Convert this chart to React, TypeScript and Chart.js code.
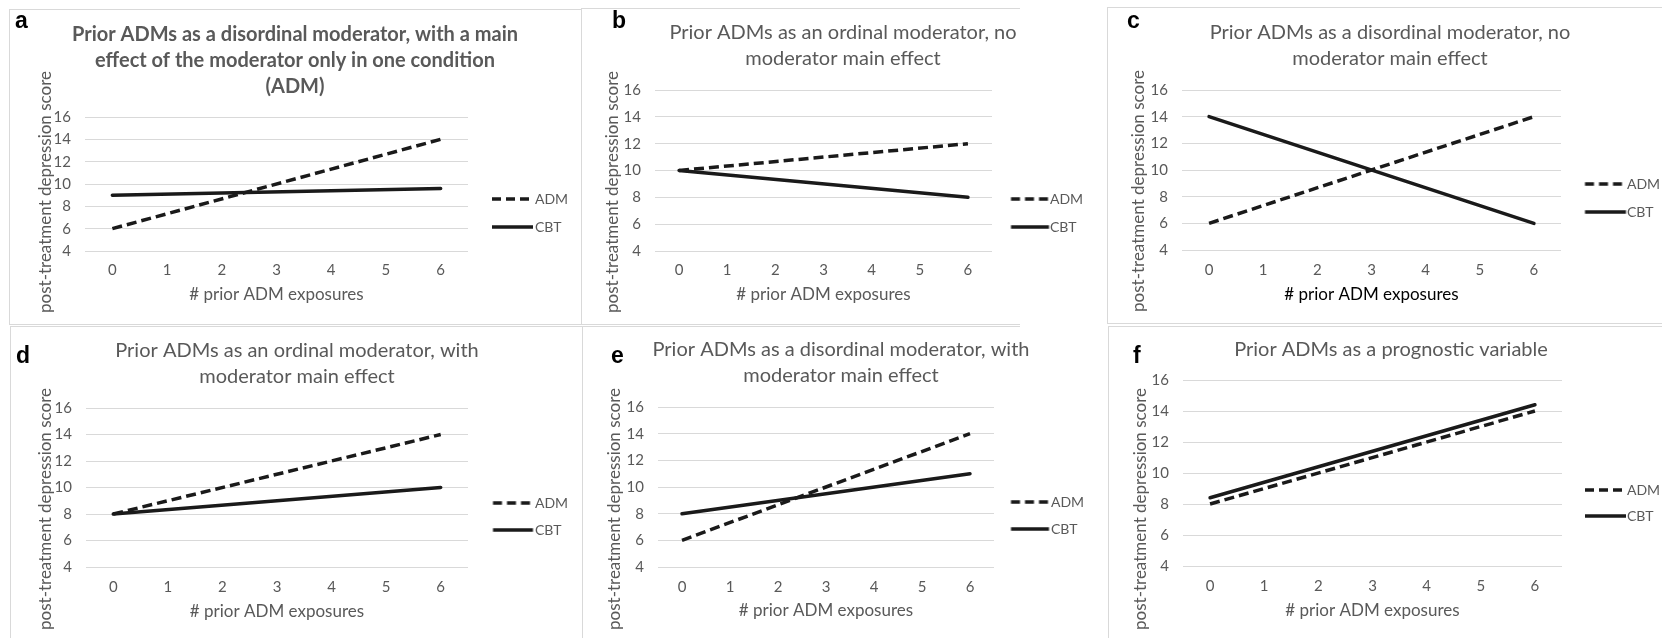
import React, { useEffect, useRef } from 'react';
import { Chart, registerables } from 'chart.js';

Chart.register(...registerables);

// ---------------- data ----------------
const EXPOSURES = ['0', '1', '2', '3', '4', '5', '6'];
const SCORE_TICKS = [4, 6, 8, 10, 12, 14, 16];
const SERIES = ['ADM', 'CBT'];
const X_TITLE = '# prior ADM exposures';
const Y_TITLE = 'post-treatment depression score';

const A_ADM = [6, null, null, null, null, null, 14];
const A_CBT = [9, null, null, null, null, null, 9.6];
const B_ADM = [10, null, null, null, null, null, 12];
const B_CBT = [10, null, null, null, null, null, 8];
const C_ADM = [6, null, null, null, null, null, 14];
const C_CBT = [14, null, null, null, null, null, 6];
const D_ADM = [8, null, null, null, null, null, 14];
const D_CBT = [8, null, null, null, null, null, 10];
const E_ADM = [6, null, null, null, null, null, 14];
const E_CBT = [8, null, null, null, null, null, 11];
const F_ADM = [8, null, null, null, null, null, 14];
const F_CBT = [8.4, null, null, null, null, null, 14.4];

const TITLE_A = [
  'Prior ADMs as a disordinal moderator, with a main',
  'effect of the moderator only in one condition',
  '(ADM)',
];
const TITLE_B = ['Prior ADMs as an ordinal moderator, no', 'moderator main effect'];
const TITLE_C = ['Prior ADMs as a disordinal moderator, no', 'moderator main effect'];
const TITLE_D = ['Prior ADMs as an ordinal moderator, with', 'moderator main effect'];
const TITLE_E = ['Prior ADMs as a disordinal moderator, with', 'moderator main effect'];
const TITLE_F = ['Prior ADMs as a prognostic variable'];

// ---------------- styles ----------------
const FONT = 'Lato, "Open Sans", sans-serif';
const GRAY = '#595959';
const LINE = '#1a1a1a';
const GRID = '#d9d9d9';
const BORDER = '#d9d9d9';
const TITLE_SIZE = 20;
const TITLE_LH = 26;
const TICK_SIZE = 15;
const TICK_LH = 18;
const AXT_SIZE = 17;
const AXT_LH = 20;
const LEG_SIZE = 14;
const LW = 3.5;
const PLOT_DASH = [10, 5];
const KEY_DASH = [9, 5];
const LEG_TEXT_ROOM = 38;

type Spec = {
  letter: string;
  letterPos: [number, number];
  title: string[];
  bold?: boolean;
  adm: (number | null)[];
  cbt: (number | null)[];
  xTitleColor?: string;
  left: number;
  top: number;
  bottom: number;
  area: [number, number, number, number];
  titleX: number;
  titleY: number;
  xTickY: number;
  xTitleY: number;
  yTitle: [number, number];
  legY: [number, number];
  key: [number, number];
  textX: number;
};

const PANELS: Spec[] = [
  {
    letter: 'a', letterPos: [15, 28], title: TITLE_A, bold: true, adm: A_ADM, cbt: A_CBT,
    left: 10, top: 10, bottom: 323, area: [85, 468, 117, 251],
    titleX: 295, titleY: 35, xTickY: 270, xTitleY: 295, yTitle: [46, 192],
    legY: [199, 227], key: [492, 533], textX: 535,
  },
  {
    letter: 'b', letterPos: [612, 28], title: TITLE_B, adm: B_ADM, cbt: B_CBT,
    left: 582, top: 10, bottom: 323, area: [655, 992, 90, 251],
    titleX: 843, titleY: 33, xTickY: 270, xTitleY: 295, yTitle: [613, 192],
    legY: [199, 227], key: [1011, 1049], textX: 1050,
  },
  {
    letter: 'c', letterPos: [1127, 28], title: TITLE_C, adm: C_ADM, cbt: C_CBT, xTitleColor: '#000000',
    left: 1108, top: 10, bottom: 322, area: [1182, 1561, 90, 250],
    titleX: 1390, titleY: 33, xTickY: 270, xTitleY: 295, yTitle: [1139, 191],
    legY: [184, 212], key: [1585, 1626], textX: 1627,
  },
  {
    letter: 'd', letterPos: [16, 363], title: TITLE_D, adm: D_ADM, cbt: D_CBT,
    left: 11, top: 327, bottom: 638, area: [86, 468, 408, 567],
    titleX: 297, titleY: 351, xTickY: 587, xTitleY: 612, yTitle: [46, 509],
    legY: [503, 530], key: [493, 533], textX: 535,
  },
  {
    letter: 'e', letterPos: [611, 363], title: TITLE_E, adm: E_ADM, cbt: E_CBT,
    left: 583, top: 327, bottom: 638, area: [658, 994, 407, 567],
    titleX: 841, titleY: 350, xTickY: 587, xTitleY: 611, yTitle: [615, 509],
    legY: [502, 529], key: [1011, 1049], textX: 1051,
  },
  {
    letter: 'f', letterPos: [1133, 363], title: TITLE_F, adm: F_ADM, cbt: F_CBT,
    left: 1109, top: 327, bottom: 638, area: [1183, 1562, 380, 566],
    titleX: 1391, titleY: 350, xTickY: 586, xTitleY: 611, yTitle: [1141, 509],
    legY: [490, 516], key: [1585, 1626], textX: 1627,
  },
];

// panel frame lines: [x1, x2, y] and [x, y1, y2]
const H_LINES = [
  [9, 581, 9], [581, 1020, 8], [1107, 1662, 7],
  [9, 1020, 324], [1107, 1662, 323],
  [10, 1020, 326], [1108, 1662, 326],
];
const V_LINES = [
  [9, 9, 324], [581, 8, 324], [1107, 7, 323],
  [10, 326, 638], [582, 326, 638], [1108, 326, 638],
];

function geometry(s: Spec) {
  const [aL, aR, aT, aB] = s.area;
  const cx = s.left;
  const cy = s.top;
  const ch = s.bottom - s.top;
  const legCap = s.textX - aR + LEG_TEXT_ROOM;
  const B = aR + legCap;
  const A = 2 * s.titleX - B;
  const padL = Math.max(0, A - cx);
  const cw = Math.ceil(B + 12 - cx);
  const padR = cx + cw - B;
  const wy = aL - (cx + padL);
  const tTop = s.titleY - cy - TITLE_LH / 2;
  const tBottom = aT - cy - tTop - s.title.length * TITLE_LH;
  const hx = s.bottom - aB;
  const tickPad = s.xTickY - aB - TICK_LH / 2;
  const xTitlePad = s.bottom - s.xTitleY - AXT_LH / 2;
  const legPad = s.legY[1] - s.legY[0] - LEG_SIZE;
  const legTitleH = 2 * ((s.legY[0] + s.legY[1]) / 2 - (s.top + s.bottom) / 2);
  const x0 = aR + legPad;
  const bw = s.textX - x0 - LEG_SIZE / 2;
  const ks = s.key[0] - x0;
  const ke = s.key[1] - x0;
  return { cx, cy, cw, ch, padL, padR, wy, legCap, tTop, tBottom, hx, tickPad, xTitlePad, legPad, legTitleH, bw, ks, ke };
}

function keyImage(dash: number[] | null, ks: number, ke: number, bw: number) {
  const c = bw / 2;
  const half = Math.ceil(Math.max(c - ks, ke - c)) + 1;
  const w = half * 2;
  const h = 8;
  const cv = document.createElement('canvas');
  cv.width = w;
  cv.height = h;
  const g = cv.getContext('2d')!;
  g.strokeStyle = LINE;
  g.lineWidth = LW;
  if (dash) g.setLineDash(dash);
  const off = half - c;
  g.beginPath();
  g.moveTo(ks + off, h / 2);
  g.lineTo(ke + off, h / 2);
  g.stroke();
  return cv;
}

function Panel({ s }: { s: Spec }) {
  const ref = useRef<HTMLCanvasElement | null>(null);
  const g = geometry(s);
  useEffect(() => {
    if (!ref.current) return;
    const keys = [keyImage(KEY_DASH, g.ks, g.ke, g.bw), keyImage(null, g.ks, g.ke, g.bw)];
    const yTitlePlugin = {
      id: 'yTitleText',
      afterDraw(chart: any) {
        const ctx = chart.ctx;
        ctx.save();
        ctx.translate(s.yTitle[0] - g.cx, s.yTitle[1] - g.cy);
        ctx.rotate(-Math.PI / 2);
        ctx.font = `${AXT_SIZE}px ${FONT}`;
        ctx.fillStyle = GRAY;
        ctx.textAlign = 'center';
        ctx.textBaseline = 'middle';
        ctx.fillText(Y_TITLE, 0, 0);
        ctx.restore();
      },
    };
    const chart = new Chart(ref.current, {
      type: 'line',
      data: {
        labels: EXPOSURES,
        datasets: [
          {
            label: SERIES[0], data: s.adm, borderColor: LINE, backgroundColor: LINE,
            borderWidth: LW, borderDash: PLOT_DASH, borderCapStyle: 'butt',
            pointRadius: 0, pointHoverRadius: 0, spanGaps: true, fill: false, tension: 0,
          },
          {
            label: SERIES[1], data: s.cbt, borderColor: LINE, backgroundColor: LINE,
            borderWidth: LW, borderCapStyle: 'round',
            pointRadius: 0, pointHoverRadius: 0, spanGaps: true, fill: false, tension: 0,
          },
        ],
      },
      options: {
        responsive: false,
        animation: false,
        devicePixelRatio: 1,
        events: [],
        layout: { padding: { left: g.padL, right: g.padR, top: 0, bottom: 0 } },
        scales: {
          x: {
            type: 'category',
            offset: true,
            grid: { display: false, drawTicks: false },
            border: { display: false },
            ticks: {
              color: GRAY, padding: g.tickPad, maxRotation: 0, autoSkip: false,
              font: { family: FONT, size: TICK_SIZE, lineHeight: TICK_LH + 'px' },
            },
            title: {
              display: true, text: X_TITLE, color: s.xTitleColor || GRAY,
              font: { family: FONT, size: AXT_SIZE, lineHeight: AXT_LH + 'px' },
              padding: { top: 0, bottom: g.xTitlePad },
            },
            afterFit: (sc: any) => { sc.height = g.hx; },
          },
          y: {
            type: 'linear',
            min: SCORE_TICKS[0],
            max: SCORE_TICKS[SCORE_TICKS.length - 1],
            ticks: {
              stepSize: SCORE_TICKS[1] - SCORE_TICKS[0], color: GRAY, padding: 14,
              font: { family: FONT, size: TICK_SIZE, lineHeight: TICK_LH + 'px' },
            },
            grid: { color: GRID, lineWidth: 1, drawTicks: false },
            border: { display: false },
            afterFit: (sc: any) => { sc.width = g.wy; },
          },
        },
        plugins: {
          tooltip: { enabled: false },
          title: {
            display: true, text: s.title, color: GRAY, align: 'center', position: 'top',
            font: { family: FONT, size: TITLE_SIZE, weight: s.bold ? 'bold' : 'normal', lineHeight: TITLE_LH + 'px' },
            padding: { top: g.tTop, bottom: g.tBottom },
          },
          legend: {
            display: true, position: 'right', align: 'center', maxWidth: g.legCap,
            title: { display: true, text: '', font: { size: 1, lineHeight: '1px' }, padding: { top: g.legTitleH - 1, bottom: 0 } },
            labels: {
              usePointStyle: true, pointStyleWidth: g.bw, boxHeight: LEG_SIZE, padding: g.legPad,
              color: GRAY, font: { family: FONT, size: LEG_SIZE },
              generateLabels: () => SERIES.map((name, i) => ({
                text: name, pointStyle: keys[i], fillStyle: LINE, strokeStyle: LINE,
                lineWidth: 0, hidden: false, datasetIndex: i, fontColor: GRAY,
              })),
            },
          },
        },
      } as any,
      plugins: [yTitlePlugin],
    } as any);
    return () => chart.destroy();
  }, []);
  return (
    <canvas
      ref={ref}
      width={g.cw}
      height={g.ch}
      style={{ position: 'absolute', left: g.cx, top: g.cy, width: g.cw, height: g.ch }}
    />
  );
}

export default function App() {
  return (
    <div style={{ position: 'fixed', left: 0, top: 0, width: 1662, height: 638, overflow: 'hidden', background: '#ffffff' }}>
      {H_LINES.map(([x1, x2, y], i) => (
        <div key={'h' + i} style={{ position: 'absolute', left: x1, top: y, width: x2 - x1, height: 1, background: BORDER }} />
      ))}
      {V_LINES.map(([x, y1, y2], i) => (
        <div key={'v' + i} style={{ position: 'absolute', left: x, top: y1, width: 1, height: y2 - y1, background: BORDER }} />
      ))}
      {PANELS.map((s) => (
        <Panel key={s.letter} s={s} />
      ))}
      {PANELS.map((s) => (
        <div
          key={'l' + s.letter}
          style={{
            position: 'absolute', left: s.letterPos[0], top: s.letterPos[1] - 19.5,
            font: 'bold 23px "Liberation Sans", Arial, sans-serif', lineHeight: '23px', color: '#000',
          }}
        >
          {s.letter}
        </div>
      ))}
    </div>
  );
}
